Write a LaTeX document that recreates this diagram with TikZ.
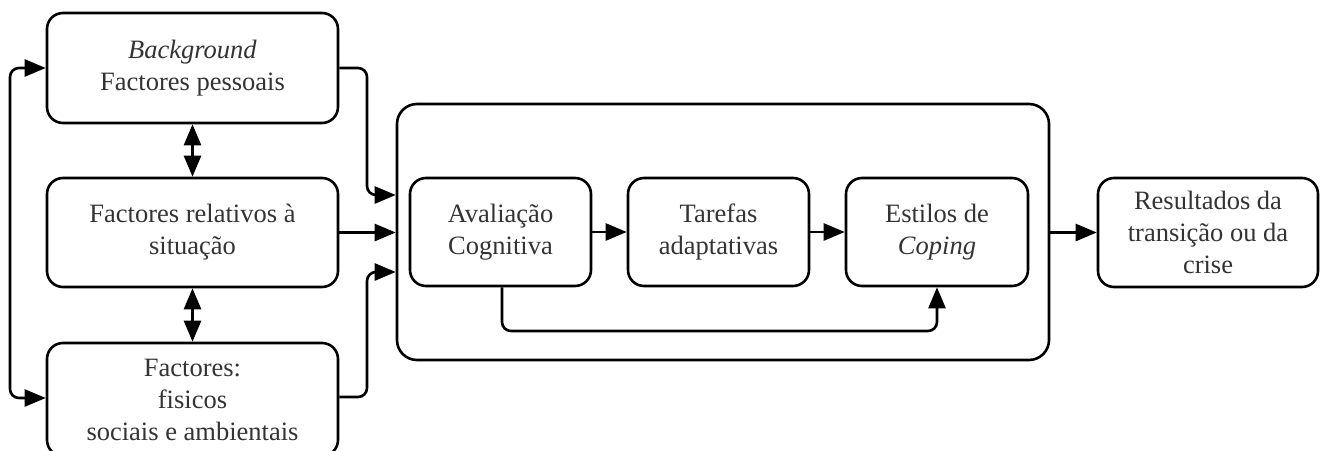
\documentclass[tikz,border=0pt]{standalone}
\usepackage{fontspec}
\setmainfont{Liberation Serif}
\usetikzlibrary{arrows.meta}
\begin{document}
\begin{tikzpicture}[x=1pt,y=-1pt,
  box/.style={draw, line width=2.6pt, rounded corners=16pt, align=center,
    inner sep=0pt, text=black!80, font=\fontsize{26.5}{32}\selectfont},
  tip/.tip={Triangle[length=21pt 0 0,width=17pt 0 0]},
  conn/.style={line width=2.6pt, rounded corners=9pt, -tip},
  dconn/.style={line width=2.6pt, rounded corners=9pt, tip-tip}]
\useasboundingbox (0,0) rectangle (1325,450);
\fill[white] (0,0) rectangle (1325,450);
% left column
\node[box, minimum width=291pt, minimum height=110pt] (bg) at (192.5,68) {\textit{Background}\\Factores pessoais};
\node[box, minimum width=291pt, minimum height=109pt] (sit) at (192.5,232.5) {Factores relativos à\\situação};
\node[box, minimum width=291pt, minimum height=113pt] (fis) at (192.5,399.5) {Factores:\\fisicos\\sociais e ambientais};
% outer box
\node[draw, line width=2.6pt, rounded corners=20pt, minimum width=652pt, minimum height=256pt, inner sep=0pt] (outer) at (723,232) {};
% inner boxes
\node[box, minimum width=181pt, minimum height=108pt] (av) at (500.5,232) {Avaliação\\Cognitiva};
\node[box, minimum width=181pt, minimum height=108pt] (ta) at (718.5,232) {Tarefas\\adaptativas};
\node[box, minimum width=182pt, minimum height=108pt] (es) at (937,232) {Estilos de\\\textit{Coping}};
\node[box, minimum width=220pt, minimum height=109pt] (res) at (1208,232.5) {Resultados da\\transição ou da\\crise};
% coordinates
\coordinate (in1) at (outer.west |- 0,195);
\coordinate (in3) at (outer.west |- 0,272);
\coordinate (bgo) at (bg.east |- 0,68);
\coordinate (fiso) at (fis.east |- 0,397);
\coordinate (bgl) at (bg.west |- 0,68);
\coordinate (fisl) at (fis.west |- 0,398);
\coordinate (avb) at (av.south -| 502,0);
% connectors
\draw[conn] (bgo) -- (367,68) -- (367,195) -- (in1);
\draw[conn] (sit.east) -- (outer.west |- sit.east);
\draw[conn] (fiso) -- (367,397) -- (367,272) -- (in3);
\draw[dconn] (bgl) -- (10,68) -- (10,398) -- (fisl);
\draw[dconn] (bg.south) -- (sit.north);
\draw[dconn] (sit.south) -- (fis.north);
\draw[conn] (av.east) -- (ta.west);
\draw[conn] (ta.east) -- (es.west);
\draw[conn] (avb) -- (502,331) -- (937,331) -- (es.south);
\draw[conn] (outer.east |- res.west) -- (res.west);
\end{tikzpicture}
\end{document}
